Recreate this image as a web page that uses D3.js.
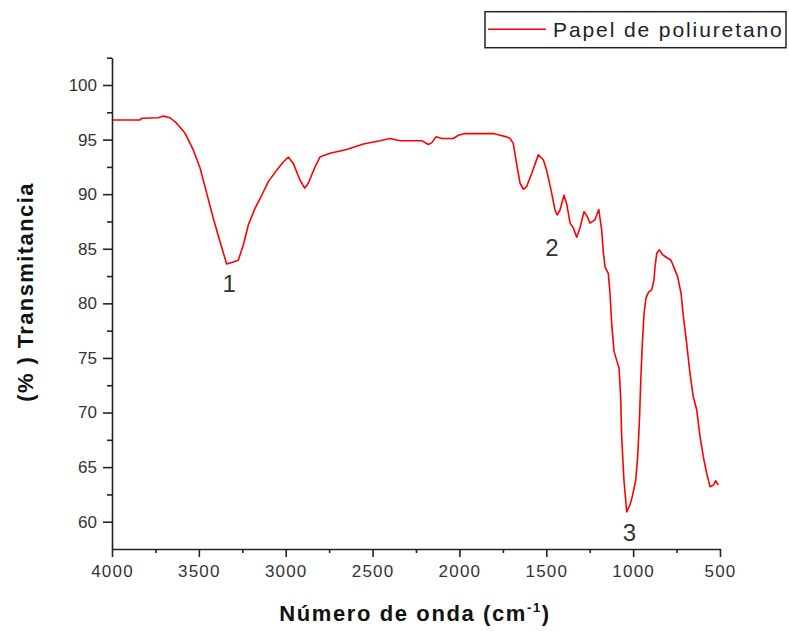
<!DOCTYPE html>
<html>
<head>
<meta charset="utf-8">
<script src="https://cdn.jsdelivr.net/npm/d3@7"></script>
<style>
  html, body { margin: 0; padding: 0; background: #fff; }
  svg { display: block; }
</style>
</head>
<body>
<svg id="chart" width="789" height="631"></svg>
<script>
// FTIR spectrum of polyurethane paper
const wavenumbers = [
  4000, 3839, 3829, 3733, 3705, 3666, 3628, 3580, 3532, 3493, 3455, 3417, 3378, 3340, 3311,
  3273, 3244, 3215, 3177, 3138, 3100, 3052, 3014, 2985, 2956, 2918, 2891, 2870, 2831, 2803,
  2745, 2649, 2553, 2457, 2400, 2342, 2217, 2179, 2160, 2135, 2102, 2035, 2006, 1968, 1805,
  1766, 1728, 1709, 1690, 1671, 1651, 1632, 1613, 1584, 1546, 1517, 1498, 1469, 1450, 1437,
  1421, 1398, 1383, 1363, 1344, 1325, 1306, 1283, 1264, 1248, 1220, 1198, 1181, 1172, 1162,
  1143, 1133, 1123, 1110, 1095, 1081, 1072, 1066, 1053, 1037, 1018, 1005, 985, 974, 964,
  956, 947, 937, 926, 912, 893, 880, 874, 864, 849, 830, 807, 782, 763, 744,
  724, 711, 692, 673, 654, 634, 615, 596, 577, 557, 538, 525, 510
];
const transmittance = [
  96.8, 96.8, 96.95, 97.0, 97.15, 97.0, 96.5, 95.6, 94.05, 92.4, 90.1, 87.8, 85.65, 83.6, 83.75,
  83.95, 85.35, 87.2, 88.7, 89.9, 91.15, 92.2, 92.95, 93.4, 92.8, 91.3, 90.55, 91.0, 92.5, 93.4,
  93.75, 94.1, 94.6, 94.9, 95.1, 94.9, 94.9, 94.55, 94.7, 95.25, 95.1, 95.1, 95.4, 95.55, 95.55,
  95.4, 95.25, 95.1, 94.65, 92.8, 91.0, 90.45, 90.7, 91.9, 93.6, 93.15, 92.2, 90.1, 88.55, 88.1,
  88.55, 89.9, 89.15, 87.35, 86.9, 86.05, 86.9, 88.4, 87.95, 87.35, 87.65, 88.6, 86.7, 84.75, 83.35,
  82.75, 80.9, 78.0, 75.6, 74.8, 74.05, 71.45, 67.8, 63.8, 60.9, 61.55, 62.3, 63.8, 65.95, 69.2,
  73.0, 76.35, 79.1, 80.5, 81.0, 81.25, 82.15, 83.35, 84.6, 84.9, 84.45, 84.2, 83.95, 83.2, 82.45,
  80.9, 78.8, 76.35, 73.6, 71.45, 70.25, 67.8, 65.95, 64.45, 63.2, 63.35, 63.75, 63.35
];

// Axis ticks
const xMajorTicks = [4000, 3500, 3000, 2500, 2000, 1500, 1000, 500];
const xMinorTicks = [3750, 3250, 2750, 2250, 1750, 1250, 750];
const yMajorTicks = [60, 65, 70, 75, 80, 85, 90, 95, 100];
const yMinorTicks = [62.5, 67.5, 72.5, 77.5, 82.5, 87.5, 92.5, 97.5, 102.5];

// Band labels (placed at wavenumber / transmittance of the text baseline)
const bandLabels = ["1", "2", "3"];
const bandPositions = [3326, 1467, 1021];
const bandValues = [81.0, 84.3, 58.2];

const seriesName = "Papel de poliuretano";
const xTitle = "Número de onda (cm";
const yTitle = "(% ) Transmitancia";

const svg = d3.select("#chart");
const font = "'Liberation Sans', Arial, sans-serif";
const axisColor = "#222";
const textColor = "#333";

const x = d3.scaleLinear().domain([4000, 500]).range([112, 720]);
const y = d3.scaleLinear().domain([57.5, 102.5]).range([549, 57.7]);

// Spectrum line
const points = wavenumbers.map((w, i) => [w, transmittance[i]]);
svg.append("path")
  .datum(points)
  .attr("fill", "none")
  .attr("stroke", "#ff0000")
  .attr("stroke-width", 1.6)
  .attr("stroke-linejoin", "round")
  .attr("d", d3.line().x(d => x(d[0])).y(d => y(d[1])));

// Bottom axis
const gx = svg.append("g").attr("transform", `translate(0,${y(57.5)})`);
gx.call(d3.axisBottom(x).tickValues(xMajorTicks).tickFormat(d3.format("d"))
  .tickSize(8).tickSizeOuter(0).tickPadding(8));
gx.append("g").call(d3.axisBottom(x).tickValues(xMinorTicks).tickSize(4).tickSizeOuter(0).tickFormat(""))
  .select(".domain").remove();

// Left axis
const gy = svg.append("g").attr("transform", `translate(${x(4000)},0)`);
gy.call(d3.axisLeft(y).tickValues(yMajorTicks).tickFormat(d3.format("d"))
  .tickSize(9).tickSizeOuter(0).tickPadding(6));
gy.append("g").call(d3.axisLeft(y).tickValues(yMinorTicks).tickSize(5).tickSizeOuter(0).tickFormat(""))
  .select(".domain").remove();

svg.selectAll(".domain, .tick line")
  .attr("stroke", axisColor)
  .attr("stroke-width", 1.6);
svg.selectAll(".tick text")
  .attr("fill", textColor)
  .style("font-family", font)
  .style("font-size", "17px");
gx.selectAll(".tick text").style("letter-spacing", "1.2px");

// Axis titles
const xt = svg.append("text")
  .attr("x", 415).attr("y", 621)
  .attr("text-anchor", "middle")
  .style("font-family", font).style("font-size", "22px").style("font-weight", "bold")
  .style("letter-spacing", "1.6px")
  .attr("fill", "#111");
xt.append("tspan").text(xTitle);
xt.append("tspan").attr("dy", -9).style("font-size", "13px").text("-1");
xt.append("tspan").attr("dy", 9).text(")");

svg.append("text")
  .attr("transform", "translate(33,292) rotate(-90)")
  .attr("text-anchor", "middle")
  .style("font-family", font).style("font-size", "22px").style("font-weight", "bold")
  .style("letter-spacing", "1.4px")
  .attr("fill", "#111")
  .text(yTitle);

// Band annotations
svg.selectAll(".band")
  .data(bandLabels)
  .join("text")
  .attr("class", "band")
  .attr("x", (d, i) => x(bandPositions[i]))
  .attr("y", (d, i) => y(bandValues[i]))
  .attr("text-anchor", "middle")
  .style("font-family", font).style("font-size", "24px")
  .attr("fill", textColor)
  .text(d => d);

// Legend
const legend = svg.append("g");
legend.append("rect")
  .attr("x", 485).attr("y", 11.7).attr("width", 301).attr("height", 36)
  .attr("fill", "#fff").attr("stroke", axisColor).attr("stroke-width", 1.5);
legend.append("line")
  .attr("x1", 488).attr("x2", 546).attr("y1", 29.3).attr("y2", 29.3)
  .attr("stroke", "#ff0000").attr("stroke-width", 1.6);
legend.append("text")
  .attr("x", 553).attr("y", 36.5)
  .style("font-family", font).style("font-size", "21px")
  .style("letter-spacing", "1.9px")
  .attr("fill", "#222")
  .text(seriesName);
</script>
</body>
</html>
